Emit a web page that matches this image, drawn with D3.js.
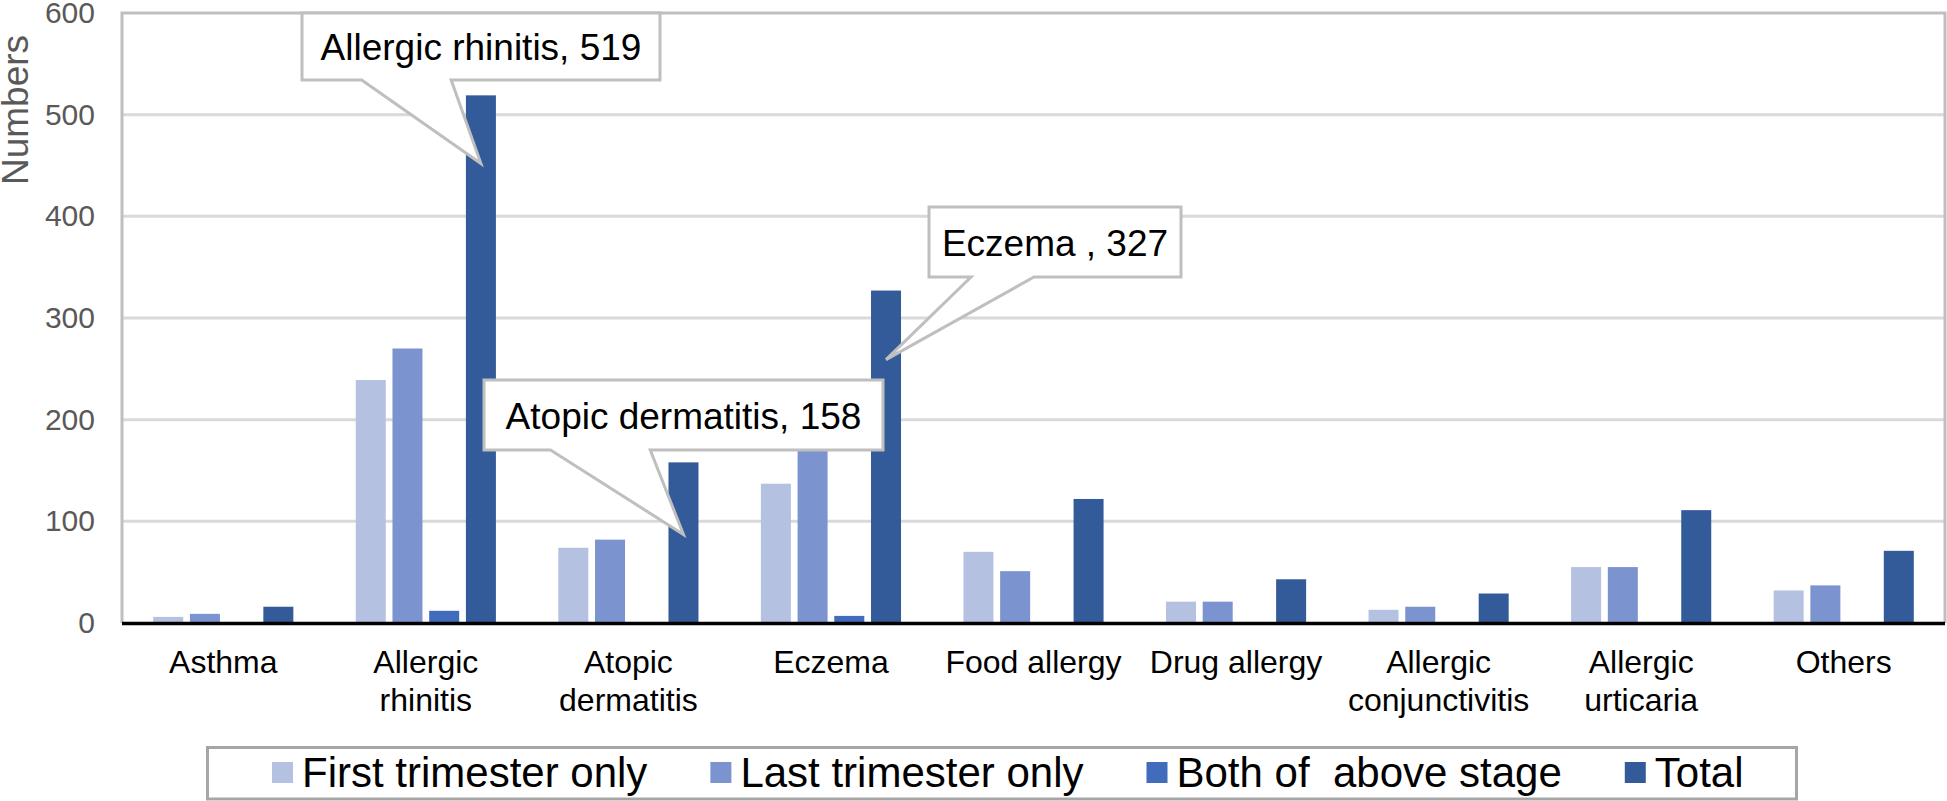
<!DOCTYPE html>
<html>
<head>
<meta charset="utf-8">
<script src="https://cdn.jsdelivr.net/npm/d3@7"></script>
<style>
  html, body { margin: 0; padding: 0; background: #fff; }
  svg { display: block; }
  text { font-family: "Liberation Sans", Arial, sans-serif; }
</style>
</head>
<body>
<svg id="chart" width="1947" height="801"></svg>
<script>
// ---------- DATA ----------
const categories = ["Asthma", "Allergic rhinitis", "Atopic dermatitis", "Eczema", "Food allergy",
  "Drug allergy", "Allergic conjunctivitis", "Allergic urticaria", "Others"];
const categoryLabelLines = [["Asthma"], ["Allergic", "rhinitis"], ["Atopic", "dermatitis"], ["Eczema"],
  ["Food allergy"], ["Drug allergy"], ["Allergic", "conjunctivitis"], ["Allergic", "urticaria"], ["Others"]];
const seriesNames = ["First trimester only", "Last trimester only", "Both of  above stage", "Total"];
const firstTrimesterOnly = [6, 239, 74, 137, 70, 21, 13, 55, 32];
const lastTrimesterOnly  = [9, 270, 82, 183, 51, 21, 16, 55, 37];
const bothStages         = [0, 12, 0, 7, 0, 0, 0, 0, 0];
const totalCases         = [16, 519, 158, 327, 122, 43, 29, 111, 71];
const yTickValues = [0, 100, 200, 300, 400, 500, 600];
const yAxisTitle = "Numbers";
const calloutCategories = ["Allergic rhinitis", "Atopic dermatitis", "Eczema"];
const calloutTexts = ["Allergic rhinitis, 519", "Atopic dermatitis, 158", "Eczema , 327"];

// ---------- LAYOUT / STYLE ----------
const seriesColors = ["#b4c1e0", "#7b93ce", "#416cbc", "#335a99"];
const plot = { left: 122, right: 1945, top: 13, bottom: 623 };
// callout boxes (pixels) and the value on the Total bar where the pointer ends
const calloutLayout = [
  { x: 302, y: 13,  w: 358, h: 67, tipValue: 452 },
  { x: 484, y: 380, w: 399, h: 70, tipValue: 87 },
  { x: 929, y: 207, w: 252, h: 70, tipValue: 259 }
];

const series = [firstTrimesterOnly, lastTrimesterOnly, bothStages, totalCases];

const svg = d3.select("#chart");

const x0 = d3.scaleBand().domain(categories).range([plot.left, plot.right]).padding(0);
const x1 = d3.scaleBand().domain(seriesNames).range([0, x0.bandwidth()])
  .paddingInner(0.183).paddingOuter(0.85);
const y = d3.scaleLinear().domain([0, 600]).range([plot.bottom, plot.top]);

// gridlines
svg.append("g").selectAll("line")
  .data(yTickValues.filter(v => v > 0 && v < 600))
  .join("line")
  .attr("x1", plot.left).attr("x2", plot.right)
  .attr("y1", d => y(d)).attr("y2", d => y(d))
  .attr("stroke", "#d9d9d9").attr("stroke-width", 3);

// plot border (left, top, right)
svg.append("path")
  .attr("d", `M${plot.left},${plot.bottom} V${y(600)} H${plot.right} V${plot.bottom}`)
  .attr("fill", "none").attr("stroke", "#bfbfbf").attr("stroke-width", 3);

// y tick labels via axis
const yAxis = d3.axisLeft(y).tickValues(yTickValues).tickSize(0).tickPadding(0);
const gy = svg.append("g").attr("transform", `translate(95,0)`).call(yAxis);
gy.select(".domain").remove();
gy.selectAll("text")
  .attr("font-family", "Liberation Sans, Arial, sans-serif")
  .attr("font-size", 30).attr("fill", "#595959");

// y axis title
svg.append("text")
  .attr("transform", "translate(28,110) rotate(-90)")
  .attr("text-anchor", "middle")
  .attr("font-size", 37).attr("fill", "#595959")
  .text(yAxisTitle);

// bars
const barData = [];
categories.forEach((c, ci) => {
  seriesNames.forEach((s, si) => {
    barData.push({ cat: c, ser: s, si, value: series[si][ci] });
  });
});
svg.append("g").selectAll("rect")
  .data(barData.filter(d => d.value > 0))
  .join("rect")
  .attr("x", d => x0(d.cat) + x1(d.ser))
  .attr("width", x1.bandwidth())
  .attr("y", d => y(d.value))
  .attr("height", d => y(0) - y(d.value))
  .attr("fill", d => seriesColors[d.si]);

// x axis baseline
svg.append("line")
  .attr("x1", plot.left).attr("x2", plot.right)
  .attr("y1", y(0) + 0.5).attr("y2", y(0) + 0.5)
  .attr("stroke", "#000").attr("stroke-width", 3.5);

// category labels
const catG = svg.append("g");
categories.forEach((c, ci) => {
  const cx = x0(c) + x0.bandwidth() / 2;
  const t = catG.append("text")
    .attr("x", cx).attr("y", 673)
    .attr("text-anchor", "middle")
    .attr("font-size", 32).attr("fill", "#000");
  categoryLabelLines[ci].forEach((line, li) => {
    t.append("tspan").attr("x", cx).attr("y", 673 + li * 37.5).text(line);
  });
});

// callouts
const calloutG = svg.append("g");
calloutCategories.forEach((cat, i) => {
  const L = calloutLayout[i];
  const ci = categories.indexOf(cat);
  const tipX = x0(cat) + x1("Total") + x1.bandwidth() / 2;
  const tipY = y(L.tipValue);
  const x0b = L.x, x1b = L.x + L.w, y0b = L.y, y1b = L.y + L.h;
  const b1 = x0b + L.w / 6, b2 = x0b + L.w * 5 / 12;
  calloutG.append("path")
    .attr("d", `M${x0b},${y0b} H${x1b} V${y1b} H${b2} L${tipX},${tipY} L${b1},${y1b} H${x0b} Z`)
    .attr("fill", "#fff").attr("stroke", "#bfbfbf").attr("stroke-width", 3)
    .attr("stroke-linejoin", "miter");
  calloutG.append("text")
    .attr("x", x0b + L.w / 2).attr("y", y0b + L.h / 2 + 13.5)
    .attr("text-anchor", "middle")
    .attr("font-size", 37).attr("fill", "#000")
    .style("white-space", "pre")
    .text(calloutTexts[i]);
});

// legend
const legendG = svg.append("g");
legendG.append("rect")
  .attr("x", 207.5).attr("y", 747.5).attr("width", 1589).attr("height", 51.5)
  .attr("fill", "#fff").attr("stroke", "#a6a6a6").attr("stroke-width", 3);
let lx = 272;
seriesNames.forEach((s, si) => {
  legendG.append("rect")
    .attr("x", lx).attr("y", 762).attr("width", 21).attr("height", 21)
    .attr("fill", seriesColors[si]);
  const t = legendG.append("text")
    .attr("x", lx + 30).attr("y", 787)
    .attr("font-size", 42).attr("fill", "#000")
    .style("white-space", "pre")
    .text(s);
  lx = lx + 30 + t.node().getComputedTextLength() + 63;
});
</script>
</body>
</html>
